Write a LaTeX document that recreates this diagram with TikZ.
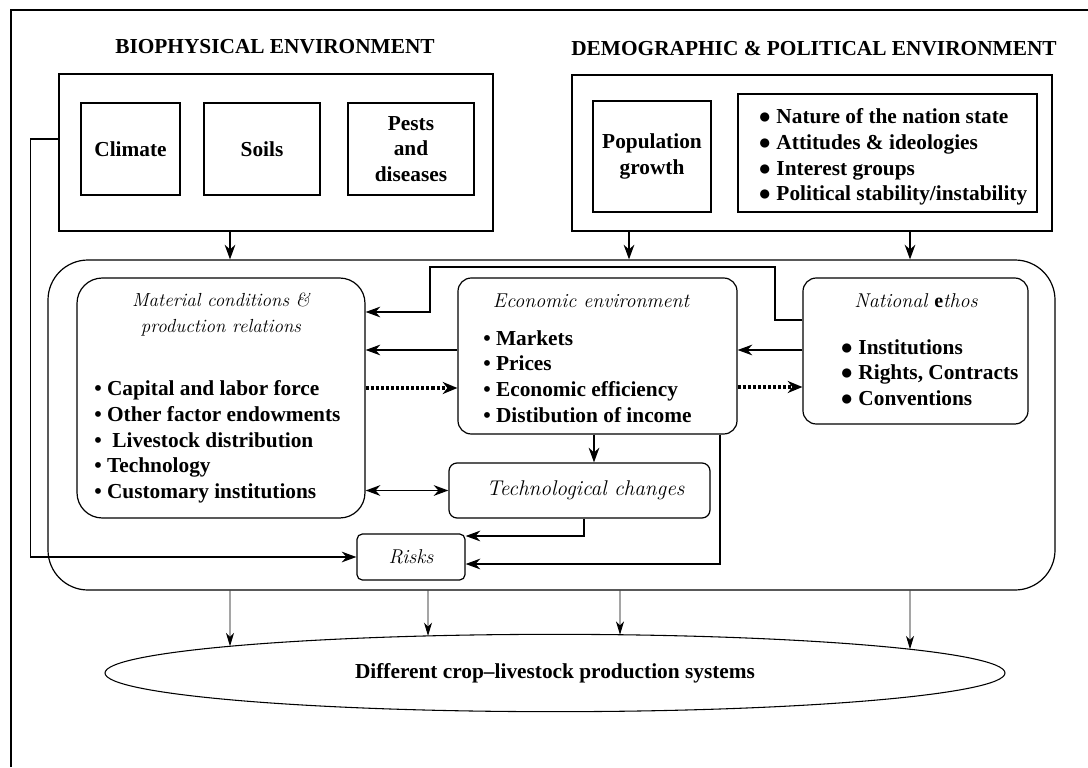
\documentclass[tikz,border=0pt]{standalone}
\usepackage{fontspec}
\usepackage{tikz}
\usetikzlibrary{arrows.meta,shapes.geometric,intersections}
\newfontfamily\tnr[Ligatures=TeX]{Liberation Serif}
\newcommand{\bfn}{\tnr\bfseries\fontsize{16}{19.4}\selectfont}
\newcommand{\itn}{\itshape\fontsize{15}{19.5}\selectfont}

\tikzset{
  box/.style={draw, line width=0.9pt, inner sep=0pt, align=center, font=\bfn},
  hdr/.style={inner sep=0pt, font=\bfn},
  ttl/.style={inner sep=0pt, align=center, font=\itn},
  lst/.style={inner sep=0pt, align=left, anchor=north west, font=\bfn},
  arr/.style={line width=1.1pt, -{Stealth[length=11pt,width=8pt,inset=3.5pt]}},
  dblarr/.style={line width=1.1pt, {Stealth[length=11pt,width=8pt,inset=3.5pt]}-{Stealth[length=11pt,width=8pt,inset=3.5pt]}},
  dotarr/.style={line width=2.3pt, dash pattern=on 2.3pt off 1.5pt, -{Stealth[length=11pt,width=9pt,inset=3.5pt]}},
  thinarr/.style={line width=0.7pt, -{Stealth[length=10pt,width=6pt,inset=3pt]}},
}

\begin{document}
\begin{tikzpicture}[x=0.75pt,y=0.75pt,yscale=-1,xscale=1]
\useasboundingbox (0,0) rectangle (1088,767);

%Frame
\draw[line width=2.2pt] (11,767) -- (11,10) -- (1088,10);

% Text Node
\node[hdr] (biohd) at (275,47) {BIOPHYSICAL ENVIRONMENT};
% Text Node
\node[hdr] (demohd) at (814,49) {DEMOGRAPHIC \& POLITICAL ENVIRONMENT};

%Shape: Rectangle
\node[box, minimum width=325.5pt, minimum height=117.75pt] (bio) at (276,152.5) {};
\node[box, minimum width=74.25pt, minimum height=69pt] (climate) at (130.5,149) {Climate};
\node[box, minimum width=87pt, minimum height=69pt] (soils) at (262,149) {Soils};
\node[box, minimum width=94.5pt, minimum height=69pt] (pests) at (411,149) {Pests\\and\\diseases};

%Shape: Rectangle
\node[box, minimum width=360pt, minimum height=117pt] (demo) at (812,153) {};
\node[box, minimum width=88.5pt, minimum height=83.25pt] (popgr) at (652,156.5) {Population\\growth};
\node[box, minimum width=224.25pt, minimum height=88.5pt] (polit) at (887.5,153) {};
% Text Node
\node[lst] (politlst) at (758,108) {● Nature of the nation state\\● Attitudes \& ideologies\\● Interest groups\\● Political stability/instability};

%Shape: Rounded Rect
\node[box, rounded corners=30pt, minimum width=755.25pt, minimum height=247.5pt] (big) at (551.5,425) {};
\node[box, rounded corners=19pt, minimum width=216pt, minimum height=180pt] (mat) at (221,398) {};
\node[box, rounded corners=10pt, minimum width=209.25pt, minimum height=117pt] (econ) at (597.5,356) {};
\node[box, rounded corners=10pt, minimum width=168.75pt, minimum height=109.5pt] (ethos) at (915.5,351) {};
\node[box, rounded corners=6pt, minimum width=195.75pt, minimum height=41.25pt, font=\itn\fontsize{16}{19.5}\selectfont] (tech) at (579.5,490.5) {\hspace*{9pt}Technological changes};
\node[box, rounded corners=4pt, minimum width=81pt, minimum height=34.5pt, font=\itn] (risks) at (411,557) {Risks};

% Text Node
\node[ttl, font=\itn\fontsize{14.2}{19.5}\selectfont] (mattl) at (221,315) {Material conditions \&\\production relations};
\node[lst] (matlst) at (94,380) {• Capital and labor force\\• Other factor endowments\\•~ Livestock distribution\\• Technology\\• Customary institutions};
% Text Node
\node[ttl] (econtl) at (591,301) {Economic environment};
\node[lst] (econlst) at (483,330) {• Markets\\• Prices\\• Economic efficiency\\• Distibution of income};
% Text Node
\node[ttl] (ethostl) at (916,301) {National {\tnr\bfseries\upshape e}thos};
\node[lst] (ethoslst) at (840,339) {● Institutions\\● Rights, Contracts\\● Conventions};

%Shape: Ellipse
\node[draw, ellipse, line width=0.8pt, inner sep=0pt, minimum width=675pt, minimum height=58pt, font=\bfn, name path=sysp] (sys) at (555,673) {Different crop--livestock production systems};

%Straight Lines
\draw[arr] (bio.south -| 230,0) -- (big.north -| 230,0);
\draw[arr] (demo.south -| 629,0) -- (big.north -| 629,0);
\draw[arr] (demo.south -| 910,0) -- (big.north -| 910,0);
\draw[arr] (bio.west |- 0,139) -- ++(-28,0) |- (risks.west);

\draw[arr] (ethos.west |- 0,320) -| (775,267) -| (430,312) -- (mat.east |- 0,312);
\draw[arr] (econ.west |- 0,350) -- (mat.east |- 0,350);
\draw[dotarr] (mat.east |- 0,388) -- (econ.west |- 0,388);
\draw[arr] (ethos.west |- 0,350) -- (econ.east |- 0,350);
\draw[dotarr] (econ.east |- 0,387) -- (ethos.west |- 0,387);
\draw[arr] (econ.south -| 594,0) -- (tech.north -| 594,0);
\draw[dblarr] (mat.east |- tech.west) -- (tech.west);
\draw[arr] (tech.south -| 584,0) |- (risks.east |- 0,536);
\draw[arr] (econ.south -| 720,0) |- (risks.east |- 0,564);

\foreach \xp in {230,428,620,910}{
  \path[name path=vline] (\xp,590) -- (\xp,720);
  \draw[thinarr, name intersections={of=vline and sysp}] (big.south -| \xp,0) -- (intersection-1);
}

\end{tikzpicture}
\end{document}
